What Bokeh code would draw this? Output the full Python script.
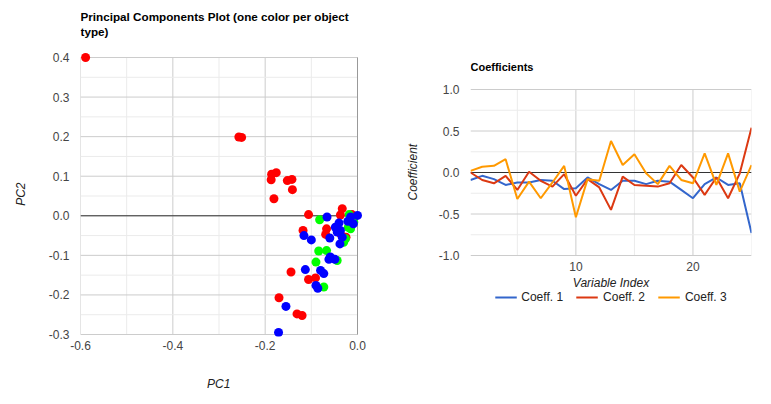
from bokeh.plotting import figure
from bokeh.layouts import row
from bokeh.models import FixedTicker, PrintfTickFormatter, Range1d, Legend, LegendItem, Label
from bokeh.embed import file_html
from bokeh.resources import INLINE

FONT = "Liberation Sans"
NBSP = "\u00a0"

# ---------------- data: principal components scatter ----------------
red_x = [-0.589, -0.257, -0.251, -0.186, -0.176, -0.187, -0.152, -0.142, -0.141, -0.181,
         -0.106, -0.033, -0.037, -0.118, -0.067, -0.069, -0.025, -0.037, -0.144, -0.106,
         -0.091, -0.170, -0.131, -0.120, -0.012]
red_y = [0.400, 0.199, 0.198, 0.105, 0.109, 0.091, 0.089, 0.092, 0.066, 0.043,
         0.003, 0.018, 0.002, -0.037, -0.033, -0.047, -0.054, -0.045, -0.142, -0.161,
         -0.157, -0.207, -0.248, -0.252, 0.003]

green_x = [-0.082, -0.018, -0.008, -0.015, -0.020, -0.030, -0.026, -0.084, -0.067, -0.090,
           -0.044, -0.073]
green_y = [-0.010, 0.003, -0.016, -0.033, -0.029, -0.067, -0.058, -0.089, -0.088, -0.117,
           -0.113, -0.180]

blue_x = [-0.066, 0.000, -0.015, -0.021, -0.040, -0.048, -0.044, -0.037, -0.033, -0.038,
          -0.060, -0.009, -0.116, -0.100, -0.059, -0.049, -0.062, -0.113, -0.080, -0.073,
          -0.090, -0.086, -0.155, -0.171]
blue_y = [-0.003, 0.001, -0.003, -0.014, -0.018, -0.029, -0.041, -0.037, -0.054, -0.071,
          -0.056, -0.020, -0.050, -0.061, -0.104, -0.110, -0.110, -0.136, -0.138, -0.146,
          -0.176, -0.183, -0.229, -0.295]

pc1_ticks = [-0.6, -0.4, -0.2, 0.0]
pc1_minor = [-0.5, -0.3, -0.1]
pc2_ticks = [-0.3, -0.2, -0.1, 0.0, 0.1, 0.2, 0.3, 0.4]
pc2_minor = [-0.25, -0.15, -0.05, 0.05, 0.15, 0.25, 0.35]
title1_lines = ["Principal Components Plot (one color per object", "type)"]

# ---------------- data: coefficients ----------------
var_index = list(range(1, 26))
coeff1 = [-0.09, -0.04, -0.08, -0.15, -0.12, -0.12, -0.09, -0.10, -0.20, -0.19,
          -0.06, -0.14, -0.21, -0.10, -0.10, -0.14, -0.10, -0.11, -0.21, -0.31,
          -0.14, -0.06, -0.15, -0.13, -0.73]
coeff2 = [0.00, -0.09, -0.13, -0.04, -0.21, 0.01, -0.10, -0.17, -0.02, -0.28,
          -0.08, -0.18, -0.45, -0.05, -0.15, -0.16, -0.17, -0.13, 0.09, -0.06,
          -0.27, -0.06, -0.31, -0.01, 0.54]
coeff3 = [0.02, 0.07, 0.08, 0.16, -0.32, -0.11, -0.31, -0.12, 0.08, -0.54,
          -0.08, -0.10, 0.38, 0.09, 0.22, -0.01, -0.14, 0.08, -0.09, -0.13,
          0.23, -0.15, 0.23, -0.23, 0.09]
coeff_names = ["Coeff. 1", "Coeff. 2", "Coeff. 3"]
coeff_colors = ["#3366cc", "#dc3912", "#ff9900"]
idx_ticks = [10, 20]
idx_minor = [5, 15, 25]
c_ticks = [-1.0, -0.5, 0.0, 0.5, 1.0]
c_minor = [-0.75, -0.25, 0.25, 0.75]

GRID_MAJOR = "#cccccc"
GRID_MINOR = "#ebebeb"


def style_axes(p):
    for ax in list(p.xaxis) + list(p.yaxis):
        ax.axis_line_color = None
        ax.major_tick_line_color = None
        ax.minor_tick_line_color = None
        ax.major_tick_out = 0
        ax.major_tick_in = 0
        ax.major_label_text_font = FONT
        ax.major_label_text_font_size = "12px"
        ax.major_label_text_color = "#444444"
        ax.axis_label_text_font = FONT
        ax.axis_label_text_font_size = "12px"
        ax.axis_label_text_font_style = "italic"
        ax.axis_label_text_color = "#222222"
        ax.formatter = PrintfTickFormatter(format="%.1f")


def grid(p, xt, xm, yt, ym, xl, xh, yl, yh, x_base=None, y_base=None):
    for ticks, col in ((xm, GRID_MINOR), (xt, GRID_MAJOR)):
        p.segment(x0=ticks, y0=[yl] * len(ticks), x1=ticks, y1=[yh] * len(ticks),
                  line_color=col, line_width=1)
    for ticks, col in ((ym, GRID_MINOR), (yt, GRID_MAJOR)):
        p.segment(x0=[xl] * len(ticks), y0=ticks, x1=[xh] * len(ticks), y1=ticks,
                  line_color=col, line_width=1)
    if x_base is not None:
        p.segment(x0=[x_base], y0=[yl], x1=[x_base], y1=[yh], line_color="#999999", line_width=1)
    if y_base is not None:
        p.segment(x0=[xl], y0=[y_base], x1=[xh], y1=[y_base], line_color="#333333", line_width=1)


def text_label(p, x, y, text, size="12px", style="normal", color="#444444",
               align="left", baseline="alphabetic"):
    p.add_layout(Label(x=x, y=y, text=text, text_font=FONT, text_font_size=size,
                       text_font_style=style, text_color=color,
                       text_align=align, text_baseline=baseline))


# ---------------- left: scatter ----------------
S1X = 277 / 0.6      # px per PC1 unit
S1Y = 277 / 0.7      # px per PC2 unit
TOP1 = 49            # px from frame top to the 0.4 line
p1 = figure(frame_width=283, frame_height=328,
            x_range=Range1d(-0.6, -0.6 + 283 / S1X),
            y_range=Range1d(-0.3 - 2 / S1Y, 0.4 + TOP1 / S1Y),
            output_backend="svg", toolbar_location=None,
            min_border_left=80, min_border_right=37, min_border_top=8, min_border_bottom=0)
p1.title = None
p1.outline_line_color = None
p1.grid.visible = False
style_axes(p1)
p1.xaxis.ticker = FixedTicker(ticks=pc1_ticks)
p1.yaxis.ticker = FixedTicker(ticks=pc2_ticks)
p1.xaxis.axis_label = "PC1" + NBSP * 2
p1.yaxis.axis_label = "PC2" + NBSP * 13
p1.xaxis.major_label_standoff = 4
p1.yaxis.major_label_standoff = 11
p1.xaxis.axis_label_standoff = 24
p1.yaxis.axis_label_standoff = 18

grid(p1, pc1_ticks, pc1_minor, pc2_ticks, pc2_minor,
     pc1_ticks[0], pc1_ticks[-1], pc2_ticks[0], pc2_ticks[-1], x_base=0.0, y_base=0.0)

p1.scatter(red_x, red_y, size=9, fill_color="#ff0000", line_color=None)
p1.scatter(green_x, green_y, size=9, fill_color="#00ff00", line_color=None)
p1.scatter(blue_x, blue_y, size=9, fill_color="#0000ff", line_color=None)

for i, line in enumerate(title1_lines):
    text_label(p1, pc1_ticks[0], pc2_ticks[-1] + (41 - 15 * i) / S1Y, line,
               size="11.7px", style="bold", color="#000000")

# ---------------- right: coefficients ----------------
S2X = 281 / 24       # px per index unit
S2Y = 166 / 2        # px per coefficient unit
TOP2 = 81            # px from frame top to the 1.0 line
BOT2 = 57            # px from the -1.0 line to frame bottom (room for x labels and legend)
p2 = figure(frame_width=281, frame_height=304,
            x_range=Range1d(var_index[0], var_index[-1]),
            y_range=Range1d(-1 - BOT2 / S2Y, 1 + TOP2 / S2Y),
            x_axis_location=None,
            output_backend="svg", toolbar_location=None,
            min_border_left=70, min_border_right=12, min_border_top=8, min_border_bottom=0)
p2.title = None
p2.outline_line_color = None
p2.grid.visible = False
style_axes(p2)
p2.yaxis.ticker = FixedTicker(ticks=c_ticks)
p2.yaxis.axis_label = "Coefficient" + NBSP * 7
p2.yaxis.major_label_standoff = 11
p2.yaxis.axis_label_standoff = 16

grid(p2, idx_ticks, idx_minor, c_ticks, c_minor,
     var_index[0], var_index[-1], c_ticks[0], c_ticks[-1], y_base=0.0)

items = []
for name, col, vals in zip(coeff_names, coeff_colors, [coeff1, coeff2, coeff3]):
    r = p2.line(var_index, vals, line_color=col, line_width=2)
    items.append(LegendItem(label=name, renderers=[r]))
legend = Legend(items=items, orientation="horizontal", location="bottom_center",
                label_text_font=FONT, label_text_font_size="12px", label_text_color="#222222",
                glyph_width=22, glyph_height=12, label_height=16, label_standoff=5, spacing=13,
                padding=0, margin=7, border_line_color=None, background_fill_alpha=0)
p2.add_layout(legend, "center")

# x tick labels and x axis title of the coefficient chart (inside the extended frame)
for t in idx_ticks:
    text_label(p2, t, c_ticks[0] - 11 / S2Y, str(t), align="center", baseline="middle")
text_label(p2, (var_index[0] + var_index[-1]) / 2, c_ticks[0] - 27 / S2Y, "Variable Index",
           style="italic", color="#222222", align="center", baseline="middle")
text_label(p2, var_index[0], c_ticks[-1] + 23 / S2Y, "Coefficients",
           size="11px", style="bold", color="#000000")

layout = row(p1, p2)
open("out.html", "w").write(file_html(layout, INLINE))
